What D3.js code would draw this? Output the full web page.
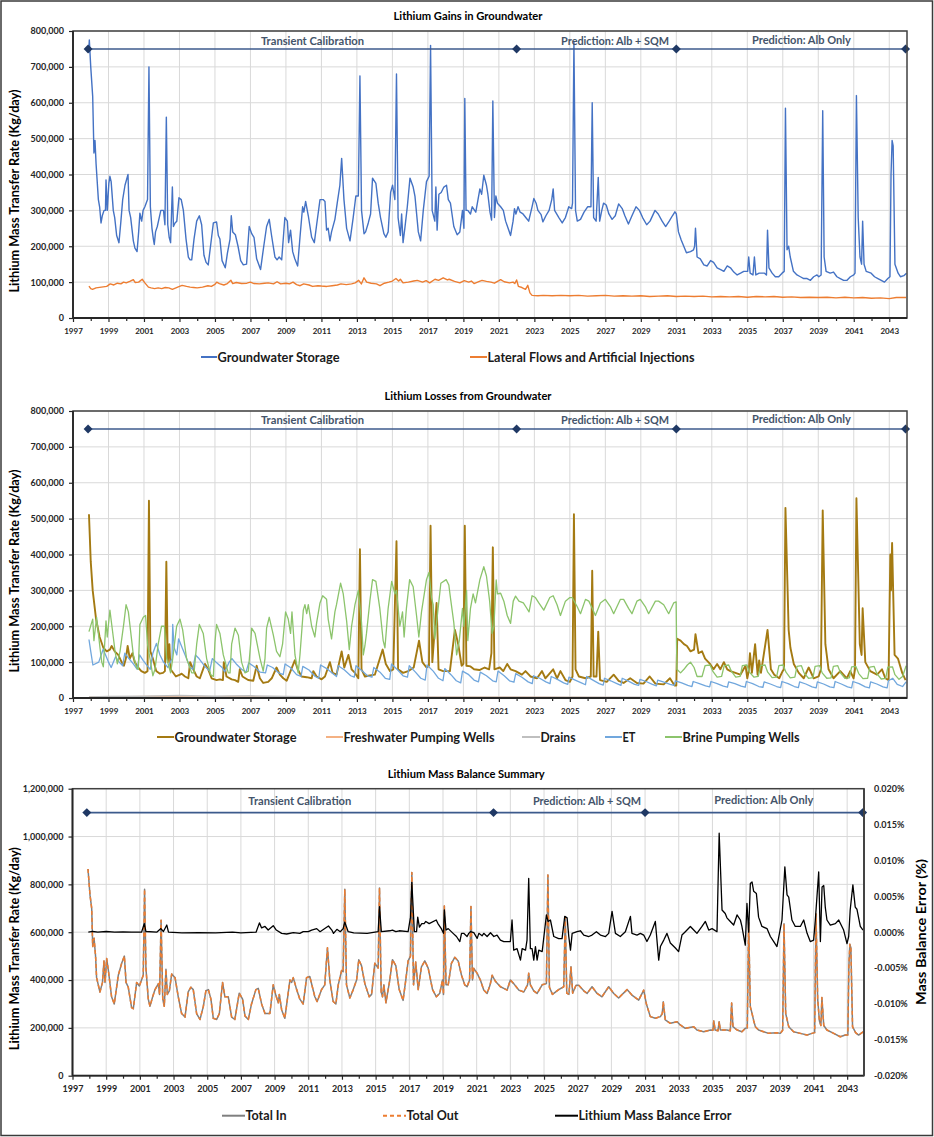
<!DOCTYPE html>
<html><head><meta charset="utf-8">
<script src="https://cdn.jsdelivr.net/npm/d3@7"></script>
<style>body{margin:0;background:#fff}svg text{font-family:Lato,'Open Sans',sans-serif;font-weight:700}</style>
</head><body><svg id="c" width="934" height="1137"></svg>
<script>
// ---------- DATA (values in thousand kg/day; error in 0.001 %) ----------
const xTickYears=[1997,1999,2001,2003,2005,2007,2009,2011,2013,2015,2017,2019,2021,2023,2025,2027,2029,2031,2033,2035,2037,2039,2041,2043];
const xMinorYears=[1998,2000,2002,2004,2006,2008,2010,2012,2014,2016,2018,2020,2022,2024,2026,2028,2030,2032,2034,2036,2038,2040,2042];
const phaseBounds=[1997.85,2022.0,2031.0,2043.92];
const phaseNames=["Transient Calibration","Prediction: Alb + SQM","Prediction: Alb Only"];
const phaseLabelAt=[2010.5,2027.55,2038.05];

const gainStorage=[[1997.88,740],[1997.92,775],[1998.00,700],[1998.11,617],[1998.18,460],[1998.24,495],[1998.30,430],[1998.43,330],[1998.50,310],[1998.58,265],[1998.65,285],[1998.75,300],[1998.83,300],[1998.86,385],[1998.93,300],[1999.02,375],[1999.08,395],[1999.15,380],[1999.27,300],[1999.35,280],[1999.46,230],[1999.59,210],[1999.70,270],[1999.80,330],[1999.93,370],[2000.10,400],[2000.16,300],[2000.25,280],[2000.40,215],[2000.49,195],[2000.61,185],[2000.70,240],[2000.77,292],[2000.87,270],[2000.95,300],[2001.05,310],[2001.20,330],[2001.28,700],[2001.36,310],[2001.45,250],[2001.53,220],[2001.58,205],[2001.65,240],[2001.75,255],[2001.86,280],[2001.95,300],[2002.10,300],[2002.18,260],[2002.26,560],[2002.34,260],[2002.42,225],[2002.50,210],[2002.60,365],[2002.66,255],[2002.75,265],[2002.85,270],[2002.97,335],[2003.10,330],[2003.22,300],[2003.37,220],[2003.50,170],[2003.60,162],[2003.69,162],[2003.82,220],[2003.97,270],[2004.12,285],[2004.25,260],[2004.38,175],[2004.50,155],[2004.62,148],[2004.75,200],[2004.91,265],[2005.09,268],[2005.19,230],[2005.28,220],[2005.40,160],[2005.58,140],[2005.70,180],[2005.85,220],[2005.92,285],[2006.00,240],[2006.15,232],[2006.30,200],[2006.45,160],[2006.60,148],[2006.78,150],[2006.93,255],[2007.07,235],[2007.20,225],[2007.35,165],[2007.57,135],[2007.75,200],[2007.91,255],[2008.06,275],[2008.19,230],[2008.38,170],[2008.50,162],[2008.62,170],[2008.76,162],[2008.94,280],[2009.08,270],[2009.15,210],[2009.26,245],[2009.38,185],[2009.50,165],[2009.66,145],[2009.80,230],[2009.94,310],[2010.01,295],[2010.11,325],[2010.26,285],[2010.45,225],[2010.60,210],[2010.73,260],[2010.92,330],[2011.10,330],[2011.20,325],[2011.29,245],[2011.38,250],[2011.48,215],[2011.57,240],[2011.76,275],[2011.89,320],[2012.04,370],[2012.14,445],[2012.27,330],[2012.42,250],[2012.61,215],[2012.79,280],[2012.94,340],[2013.08,340],[2013.17,675],[2013.26,300],[2013.40,235],[2013.49,240],[2013.64,265],[2013.77,290],[2013.88,390],[2014.07,375],[2014.20,320],[2014.33,280],[2014.52,235],[2014.63,225],[2014.76,240],[2014.90,350],[2015.01,370],[2015.14,330],[2015.23,680],[2015.32,280],[2015.45,230],[2015.52,290],[2015.60,210],[2015.70,250],[2015.84,310],[2015.99,390],[2016.17,365],[2016.27,340],[2016.46,240],[2016.59,215],[2016.74,300],[2016.92,380],[2017.07,395],[2017.15,760],[2017.24,300],[2017.39,270],[2017.45,365],[2017.52,245],[2017.62,345],[2017.75,350],[2017.90,365],[2018.05,370],[2018.15,330],[2018.27,320],[2018.46,255],[2018.65,232],[2018.80,240],[2018.95,300],[2019.03,250],[2019.08,612],[2019.15,300],[2019.25,300],[2019.40,290],[2019.50,310],[2019.70,295],[2019.93,360],[2020.03,345],[2020.15,398],[2020.30,370],[2020.38,345],[2020.50,295],[2020.59,273],[2020.66,605],[2020.75,280],[2020.83,340],[2020.92,320],[2021.10,310],[2021.25,300],[2021.38,270],[2021.52,250],[2021.66,230],[2021.80,270],[2021.88,305],[2021.96,290],[2022.08,310],[2022.20,295],[2022.36,290],[2022.55,278],[2022.68,270],[2022.87,310],[2022.97,333],[2023.10,320],[2023.20,300],[2023.38,288],[2023.48,268],[2023.65,285],[2023.83,300],[2023.98,330],[2024.06,360],[2024.14,300],[2024.38,280],[2024.57,265],[2024.75,280],[2024.94,310],[2025.10,305],[2025.15,320],[2025.23,770],[2025.32,300],[2025.42,270],[2025.60,275],[2025.80,295],[2026.00,310],[2026.19,310],[2026.26,600],[2026.34,280],[2026.48,270],[2026.60,392],[2026.68,270],[2026.80,300],[2026.90,320],[2027.05,315],[2027.20,290],[2027.38,275],[2027.56,285],[2027.75,318],[2027.95,305],[2028.10,285],[2028.30,262],[2028.50,285],[2028.73,310],[2028.92,300],[2029.10,280],[2029.33,260],[2029.52,270],[2029.80,300],[2029.98,290],[2030.20,270],[2030.40,255],[2030.60,270],[2030.78,285],[2030.92,296],[2031.00,290],[2031.12,240],[2031.27,218],[2031.42,200],[2031.57,182],[2031.80,185],[2031.97,190],[2032.03,200],[2032.08,250],[2032.17,170],[2032.35,165],[2032.55,148],[2032.74,145],[2032.93,160],[2033.10,155],[2033.30,140],[2033.50,135],[2033.68,130],[2033.87,145],[2034.05,140],[2034.24,128],[2034.43,120],[2034.62,125],[2034.80,130],[2035.02,130],[2035.08,170],[2035.16,125],[2035.32,120],[2035.40,170],[2035.48,120],[2035.67,125],[2035.97,125],[2036.08,120],[2036.14,245],[2036.22,140],[2036.40,125],[2036.58,115],[2036.77,115],[2036.96,125],[2037.08,130],[2037.15,585],[2037.24,190],[2037.33,200],[2037.42,170],[2037.60,130],[2037.80,120],[2037.99,115],[2038.18,110],[2038.37,110],[2038.56,105],[2038.74,115],[2038.93,120],[2039.03,115],[2039.16,120],[2039.25,578],[2039.33,170],[2039.44,130],[2039.67,125],[2039.86,128],[2040.05,115],[2040.24,110],[2040.43,105],[2040.62,105],[2040.81,115],[2041.00,120],[2041.07,125],[2041.15,620],[2041.25,280],[2041.35,170],[2041.44,150],[2041.50,270],[2041.58,150],[2041.70,130],[2041.98,125],[2042.17,115],[2042.36,110],[2042.55,105],[2042.73,100],[2042.92,110],[2043.04,115],[2043.10,400],[2043.16,495],[2043.22,480],[2043.32,150],[2043.50,125],[2043.63,115],[2043.82,118],[2043.97,125]];

const gainLateral=[[1997.90,89],[1998.00,82],[1998.10,80],[1998.30,84],[1998.60,86],[1998.90,88],[1999.10,95],[1999.30,92],[1999.50,97],[1999.70,95],[1999.85,100],[2000.00,98],[2000.20,102],[2000.40,107],[2000.50,99],[2000.70,100],[2000.90,108],[2001.05,98],[2001.25,86],[2001.40,84],[2001.60,82],[2001.80,84],[2002.00,82],[2002.20,85],[2002.40,84],[2002.60,80],[2002.80,84],[2003.00,88],[2003.15,91],[2003.40,88],[2003.60,86],[2003.80,85],[2004.00,84],[2004.30,86],[2004.60,90],[2004.80,88],[2005.00,94],[2005.10,100],[2005.25,96],[2005.50,92],[2005.70,96],[2005.90,105],[2006.00,96],[2006.20,99],[2006.50,96],[2006.80,97],[2007.00,100],[2007.20,96],[2007.50,95],[2007.80,97],[2008.00,98],[2008.30,95],[2008.50,101],[2008.70,95],[2009.00,97],[2009.20,95],[2009.40,100],[2009.60,93],[2009.80,90],[2010.00,95],[2010.30,92],[2010.50,88],[2010.80,90],[2011.00,89],[2011.30,88],[2011.60,90],[2011.90,92],[2012.10,95],[2012.40,93],[2012.70,95],[2012.90,98],[2013.10,105],[2013.25,95],[2013.40,112],[2013.55,100],[2013.80,97],[2014.10,95],[2014.30,90],[2014.55,97],[2014.80,100],[2015.00,103],[2015.20,110],[2015.35,103],[2015.45,108],[2015.60,98],[2015.90,100],[2016.20,103],[2016.40,105],[2016.70,100],[2016.90,104],[2017.10,98],[2017.40,108],[2017.60,105],[2017.86,112],[2018.10,106],[2018.20,108],[2018.50,102],[2018.80,98],[2019.05,104],[2019.30,100],[2019.45,103],[2019.60,96],[2019.90,102],[2020.05,105],[2020.30,102],[2020.55,100],[2020.75,97],[2021.00,104],[2021.10,107],[2021.30,101],[2021.60,98],[2021.80,100],[2021.90,96],[2022.00,106],[2022.10,88],[2022.30,85],[2022.50,80],[2022.63,91],[2022.75,70],[2022.87,63],[2023.20,62],[2023.50,63],[2024.00,62],[2024.50,63],[2025.00,62],[2025.50,63],[2026.00,61],[2026.50,62],[2027.00,63],[2027.50,61],[2028.00,62],[2028.50,61],[2029.00,62],[2029.50,60],[2030.00,61],[2030.50,62],[2031.00,60],[2031.50,61],[2032.00,60],[2032.50,61],[2033.00,59],[2033.50,60],[2034.00,59],[2034.50,60],[2035.00,58],[2035.50,60],[2036.00,59],[2036.50,60],[2037.00,58],[2037.50,59],[2038.00,57],[2038.50,58],[2039.00,57],[2039.50,58],[2040.00,56],[2040.50,58],[2041.00,56],[2041.50,57],[2042.00,55],[2042.50,56],[2043.00,54],[2043.40,57],[2043.95,57]];

const lossStorage=[[1997.90,512],[1998.00,380],[1998.11,300],[1998.30,220],[1998.50,170],[1998.71,140],[1998.90,130],[1999.08,135],[1999.18,145],[1999.35,130],[1999.55,120],[1999.74,100],[1999.87,90],[1999.98,110],[2000.08,145],[2000.20,110],[2000.35,125],[2000.48,100],[2000.67,85],[2000.85,75],[2001.05,70],[2001.20,75],[2001.28,550],[2001.36,130],[2001.50,110],[2001.69,75],[2001.88,68],[2002.07,70],[2002.18,75],[2002.26,380],[2002.34,100],[2002.43,150],[2002.50,80],[2002.80,60],[2003.03,65],[2003.12,68],[2003.31,60],[2003.50,55],[2003.60,100],[2003.78,80],[2003.97,60],[2004.15,55],[2004.44,95],[2004.62,80],[2004.81,55],[2005.09,50],[2005.28,52],[2005.45,50],[2005.50,100],[2005.65,60],[2005.94,52],[2006.13,50],[2006.31,45],[2006.40,80],[2006.55,60],[2006.87,50],[2007.16,48],[2007.35,90],[2007.53,55],[2007.72,42],[2008.00,45],[2008.20,55],[2008.47,85],[2008.66,65],[2008.85,55],[2009.04,48],[2009.50,105],[2009.66,80],[2009.88,60],[2010.17,58],[2010.45,55],[2010.54,75],[2010.73,60],[2011.01,52],[2011.20,60],[2011.48,100],[2011.63,70],[2011.85,65],[2012.14,130],[2012.29,85],[2012.52,120],[2012.70,80],[2012.89,70],[2013.08,55],[2013.17,415],[2013.26,80],[2013.45,60],[2013.64,62],[2014.01,65],[2014.45,135],[2014.63,95],[2014.86,75],[2015.05,80],[2015.23,437],[2015.32,80],[2015.60,70],[2015.89,75],[2016.20,85],[2016.50,160],[2016.69,100],[2016.92,85],[2017.06,90],[2017.15,480],[2017.25,100],[2017.49,265],[2017.60,80],[2017.86,75],[2018.24,75],[2018.52,190],[2018.71,150],[2018.90,90],[2019.00,95],[2019.08,480],[2019.17,90],[2019.40,88],[2019.60,80],[2019.90,78],[2020.20,85],[2020.45,80],[2020.58,125],[2020.66,420],[2020.75,80],[2021.05,85],[2021.25,75],[2021.47,95],[2021.66,80],[2021.94,75],[2022.30,65],[2022.50,75],[2022.78,60],[2023.15,55],[2023.43,75],[2023.62,55],[2024.06,80],[2024.28,55],[2024.47,75],[2024.75,50],[2025.00,45],[2025.15,60],[2025.23,512],[2025.32,80],[2025.51,60],[2025.88,55],[2026.18,60],[2026.26,355],[2026.34,60],[2026.50,60],[2026.60,185],[2026.70,50],[2027.08,45],[2027.47,65],[2027.75,48],[2028.03,42],[2028.40,55],[2028.78,42],[2029.15,40],[2029.50,60],[2029.82,40],[2030.29,38],[2030.64,55],[2030.90,35],[2031.00,35],[2031.05,165],[2031.24,160],[2031.43,150],[2031.60,145],[2031.80,130],[2032.00,135],[2032.08,178],[2032.25,125],[2032.45,130],[2032.62,110],[2032.90,95],[2033.10,80],[2033.30,95],[2033.48,80],[2033.68,100],[2033.87,80],[2034.05,75],[2034.33,70],[2034.61,65],[2034.90,90],[2035.00,55],[2035.08,75],[2035.15,125],[2035.26,70],[2035.44,150],[2035.58,65],[2035.67,105],[2035.77,70],[2036.14,190],[2036.33,80],[2036.52,65],[2036.80,55],[2036.99,75],[2037.07,80],[2037.15,530],[2037.33,190],[2037.43,140],[2037.62,95],[2037.90,70],[2038.18,55],[2038.46,85],[2038.74,55],[2039.02,60],[2039.15,80],[2039.25,523],[2039.40,150],[2039.58,80],[2039.86,55],[2040.24,75],[2040.61,55],[2040.80,75],[2040.99,55],[2041.07,80],[2041.15,557],[2041.34,150],[2041.44,120],[2041.50,250],[2041.65,100],[2041.93,75],[2042.31,65],[2042.59,80],[2042.78,55],[2042.96,50],[2043.06,400],[2043.10,300],[2043.16,432],[2043.30,120],[2043.49,110],[2043.73,70],[2043.92,50]];

const lossFresh=[[1997.90,2],[1999.00,3],[2001.50,4],[2004.00,3],[2006.50,4],[2009.00,3],[2012.00,2],[2016.00,2],[2022.00,2],[2031.00,1],[2043.95,1]];
const lossDrains=[[1997.90,3],[1999.00,4],[2001.00,5],[2003.00,7],[2005.00,5],[2007.00,6],[2009.00,4],[2011.00,3],[2014.00,3],[2018.00,2],[2025.00,2],[2031.00,2],[2043.95,2]];

const lossET=[[1997.90,163],[1998.00,130],[1998.12,92],[1998.45,100],[1998.70,136],[1998.90,112],[1999.00,100],[1999.15,85],[1999.40,115],[1999.60,100],[1999.80,90],[1999.92,125],[2000.15,110],[2000.40,95],[2000.62,80],[2000.75,120],[2000.95,105],[2001.10,95],[2001.35,80],[2001.50,125],[2001.70,152],[2001.90,120],[2002.10,100],[2002.35,85],[2002.58,110],[2002.62,205],[2002.70,140],[2002.85,120],[2002.95,165],[2003.15,140],[2003.40,110],[2003.60,85],[2003.75,80],[2003.90,120],[2004.10,110],[2004.40,90],[2004.70,75],[2004.85,110],[2005.10,98],[2005.40,85],[2005.55,73],[2005.80,100],[2005.95,110],[2006.20,95],[2006.50,80],[2006.75,72],[2006.90,98],[2007.20,88],[2007.55,72],[2007.85,70],[2007.95,92],[2008.25,85],[2008.60,70],[2008.85,65],[2008.95,95],[2009.25,85],[2009.60,65],[2009.85,60],[2009.95,88],[2010.30,78],[2010.65,60],[2010.85,55],[2010.95,92],[2011.30,82],[2011.60,70],[2011.85,60],[2011.95,90],[2012.30,78],[2012.65,62],[2012.85,58],[2012.95,90],[2013.30,75],[2013.60,62],[2013.85,58],[2013.95,85],[2014.30,72],[2014.60,55],[2014.85,52],[2014.95,95],[2015.30,78],[2015.60,62],[2015.85,58],[2015.95,90],[2016.30,72],[2016.60,55],[2016.85,50],[2016.95,92],[2017.30,75],[2017.60,55],[2017.85,48],[2017.95,82],[2018.30,65],[2018.60,48],[2018.85,42],[2018.95,75],[2019.30,65],[2019.60,50],[2019.85,45],[2019.95,72],[2020.30,62],[2020.65,48],[2020.85,45],[2020.95,75],[2021.30,62],[2021.60,48],[2021.85,44],[2021.95,68],[2022.30,58],[2022.65,45],[2022.88,40],[2022.95,62],[2023.30,55],[2023.65,45],[2023.88,40],[2023.95,60],[2024.30,52],[2024.65,42],[2024.88,38],[2024.95,58],[2025.30,50],[2025.65,42],[2025.88,37],[2025.95,60],[2026.30,50],[2026.65,40],[2026.88,36],[2026.95,55],[2027.30,48],[2027.65,40],[2027.88,35],[2027.95,55],[2028.30,47],[2028.65,38],[2028.88,35],[2028.95,52],[2029.30,46],[2029.65,38],[2029.88,34],[2029.95,50],[2030.30,44],[2030.65,38],[2030.88,35],[2030.95,48],[2031.30,42],[2031.65,35],[2031.88,32],[2031.95,46],[2032.30,40],[2032.65,34],[2032.88,31],[2032.95,46],[2033.30,40],[2033.65,33],[2033.88,30],[2033.95,45],[2034.30,40],[2034.65,33],[2034.88,30],[2034.95,46],[2035.30,40],[2035.65,32],[2035.88,30],[2035.95,45],[2036.30,39],[2036.65,32],[2036.88,29],[2036.95,46],[2037.30,40],[2037.65,32],[2037.88,29],[2037.95,45],[2038.30,39],[2038.65,31],[2038.88,28],[2038.95,45],[2039.30,39],[2039.65,31],[2039.88,29],[2039.95,46],[2040.30,39],[2040.65,31],[2040.88,28],[2040.95,46],[2041.30,40],[2041.65,31],[2041.88,28],[2041.95,45],[2042.30,39],[2042.65,31],[2042.88,28],[2042.95,48],[2043.20,55],[2043.45,38],[2043.75,32],[2043.95,45]];

const lossBrine=[[1997.90,185],[1998.11,220],[1998.18,160],[1998.33,225],[1998.52,140],[1998.62,100],[1998.71,87],[1998.86,215],[1998.93,170],[1999.08,245],[1999.27,170],[1999.37,130],[1999.50,95],[1999.65,130],[1999.87,210],[1999.99,260],[2000.12,240],[2000.25,185],[2000.40,120],[2000.58,85],[2000.68,80],[2000.77,205],[2000.96,225],[2001.09,230],[2001.20,150],[2001.50,62],[2001.62,80],[2001.80,150],[2001.99,200],[2002.15,200],[2002.28,110],[2002.50,70],[2002.62,110],[2002.84,200],[2003.03,220],[2003.18,190],[2003.40,110],[2003.69,70],[2003.82,70],[2003.97,150],[2004.12,205],[2004.34,180],[2004.53,110],[2004.76,65],[2004.91,60],[2005.00,155],[2005.09,205],[2005.28,180],[2005.47,120],[2005.75,70],[2005.85,70],[2005.94,150],[2006.13,195],[2006.32,175],[2006.50,100],[2006.69,70],[2006.88,75],[2007.01,150],[2007.07,195],[2007.26,180],[2007.54,110],[2007.72,75],[2007.82,110],[2007.91,195],[2008.06,225],[2008.29,175],[2008.47,130],[2008.66,115],[2008.81,150],[2008.98,240],[2009.13,220],[2009.26,180],[2009.34,240],[2009.51,120],[2009.69,70],[2009.79,120],[2009.98,245],[2010.07,260],[2010.17,235],[2010.26,260],[2010.45,200],[2010.63,170],[2010.73,210],[2010.92,265],[2011.07,285],[2011.29,275],[2011.38,220],[2011.57,165],[2011.76,240],[2011.85,260],[2012.08,320],[2012.23,290],[2012.42,215],[2012.57,135],[2012.70,200],[2012.89,260],[2013.08,300],[2013.26,210],[2013.36,120],[2013.45,145],[2013.54,180],[2013.73,270],[2013.88,330],[2014.07,325],[2014.29,250],[2014.48,160],[2014.58,140],[2014.76,250],[2014.96,325],[2015.14,290],[2015.23,300],[2015.42,200],[2015.57,240],[2015.66,170],[2015.79,250],[2015.97,330],[2016.17,310],[2016.36,230],[2016.49,170],[2016.64,240],[2016.92,330],[2017.06,350],[2017.20,280],[2017.30,260],[2017.39,165],[2017.73,320],[2018.03,330],[2018.18,315],[2018.27,280],[2018.46,210],[2018.62,120],[2018.77,160],[2018.95,250],[2019.03,200],[2019.18,300],[2019.25,160],[2019.40,250],[2019.55,290],[2019.68,265],[2019.93,330],[2020.15,366],[2020.30,340],[2020.48,270],[2020.62,180],[2020.72,200],[2020.85,329],[2020.92,290],[2021.10,292],[2021.28,270],[2021.47,230],[2021.66,208],[2021.81,270],[2021.94,284],[2022.13,270],[2022.38,265],[2022.51,255],[2022.70,240],[2022.87,285],[2023.06,280],[2023.25,265],[2023.53,245],[2023.87,280],[2024.06,285],[2024.28,260],[2024.47,230],[2024.75,270],[2025.00,280],[2025.13,280],[2025.41,255],[2025.60,235],[2025.88,275],[2026.07,270],[2026.26,250],[2026.44,230],[2026.72,265],[2027.00,275],[2027.28,255],[2027.47,235],[2027.85,275],[2028.03,275],[2028.31,250],[2028.50,235],[2028.78,270],[2028.97,275],[2029.25,255],[2029.44,235],[2029.82,270],[2030.00,270],[2030.29,260],[2030.57,235],[2030.85,265],[2030.99,268],[2031.03,80],[2031.24,70],[2031.43,80],[2031.62,92],[2031.80,100],[2032.00,85],[2032.17,60],[2032.45,60],[2032.62,90],[2032.90,92],[2033.05,75],[2033.30,58],[2033.55,60],[2033.70,90],[2033.95,92],[2034.10,75],[2034.35,58],[2034.60,60],[2034.72,90],[2034.98,92],[2035.12,72],[2035.38,58],[2035.62,60],[2035.75,90],[2036.00,92],[2036.15,72],[2036.40,57],[2036.65,58],[2036.78,90],[2037.02,92],[2037.18,72],[2037.42,56],[2037.68,58],[2037.80,88],[2038.05,90],[2038.20,70],[2038.45,55],[2038.70,57],[2038.82,88],[2039.08,90],[2039.22,70],[2039.48,55],[2039.72,56],[2039.85,88],[2040.10,90],[2040.25,70],[2040.50,55],[2040.75,56],[2040.88,87],[2041.12,88],[2041.28,68],[2041.52,54],[2041.78,55],[2041.90,86],[2042.15,88],[2042.30,68],[2042.55,53],[2042.80,55],[2042.92,86],[2043.18,87],[2043.32,65],[2043.55,52],[2043.75,60],[2043.95,90]];

const totalIn=[[1997.92,864],[1998.04,755],[1998.14,700],[1998.20,540],[1998.28,575],[1998.37,500],[1998.43,410],[1998.63,350],[1998.78,390],[1998.87,480],[1998.93,390],[1999.03,490],[1999.13,440],[1999.32,330],[1999.48,300],[1999.72,420],[1999.92,470],[2000.08,500],[2000.18,390],[2000.31,370],[2000.51,285],[2000.61,280],[2000.81,390],[2000.97,375],[2001.10,400],[2001.20,420],[2001.28,780],[2001.36,450],[2001.50,320],[2001.60,290],[2001.76,330],[2001.90,360],[2002.10,385],[2002.17,340],[2002.26,650],[2002.36,320],[2002.45,290],[2002.55,445],[2002.63,340],[2002.75,355],[2002.89,425],[2003.09,410],[2003.28,330],[2003.48,260],[2003.68,245],[2003.87,350],[2004.03,370],[2004.17,360],[2004.37,260],[2004.57,235],[2004.77,290],[2004.92,355],[2005.07,360],[2005.22,320],[2005.36,240],[2005.56,235],[2005.72,260],[2005.91,390],[2006.05,330],[2006.25,330],[2006.45,245],[2006.64,235],[2006.90,345],[2007.10,320],[2007.24,250],[2007.44,235],[2007.63,300],[2007.89,360],[2008.03,365],[2008.23,300],[2008.43,260],[2008.62,260],[2008.72,260],[2008.92,380],[2009.08,335],[2009.22,305],[2009.28,340],[2009.42,275],[2009.61,240],[2009.91,400],[2010.01,390],[2010.11,410],[2010.31,360],[2010.50,320],[2010.70,300],[2010.90,410],[2011.09,415],[2011.39,330],[2011.53,310],[2011.79,360],[2011.98,380],[2012.06,460],[2012.14,535],[2012.28,400],[2012.48,310],[2012.64,300],[2012.78,380],[2012.98,440],[2013.07,435],[2013.17,780],[2013.27,380],[2013.47,325],[2013.67,360],[2013.87,400],[2014.00,485],[2014.16,460],[2014.36,385],[2014.62,330],[2014.76,340],[2014.95,470],[2015.05,460],[2015.15,450],[2015.23,785],[2015.33,350],[2015.41,330],[2015.49,380],[2015.61,305],[2015.84,400],[2016.00,485],[2016.20,460],[2016.40,360],[2016.63,315],[2016.79,400],[2016.93,480],[2017.07,500],[2017.15,850],[2017.25,380],[2017.38,475],[2017.53,360],[2017.72,455],[2017.92,480],[2018.12,450],[2018.38,360],[2018.61,330],[2018.81,345],[2018.97,400],[2019.03,340],[2019.08,710],[2019.18,380],[2019.31,380],[2019.50,470],[2019.70,495],[2019.90,480],[2020.10,420],[2020.29,380],[2020.43,372],[2020.58,400],[2020.66,707],[2020.75,400],[2020.83,449],[2021.03,428],[2021.22,400],[2021.42,358],[2021.62,344],[2021.80,380],[2021.92,420],[2022.11,395],[2022.41,372],[2022.61,365],[2022.81,358],[2023.00,400],[2023.20,385],[2023.50,358],[2023.80,350],[2024.02,380],[2024.09,428],[2024.19,380],[2024.39,355],[2024.59,344],[2024.89,380],[2025.14,385],[2025.23,839],[2025.32,370],[2025.50,340],[2025.87,360],[2026.17,372],[2026.26,665],[2026.35,345],[2026.48,340],[2026.60,456],[2026.70,345],[2026.90,378],[2027.06,378],[2027.36,355],[2027.56,344],[2027.85,372],[2028.15,344],[2028.44,330],[2028.84,372],[2029.14,344],[2029.43,325],[2029.93,360],[2030.22,337],[2030.62,316],[2030.92,358],[2031.07,302],[2031.31,247],[2031.61,240],[2031.91,247],[2032.02,260],[2032.08,309],[2032.20,233],[2032.50,219],[2032.90,226],[2033.09,212],[2033.39,198],[2033.89,205],[2034.08,191],[2034.48,184],[2034.88,191],[2035.03,190],[2035.08,229],[2035.16,191],[2035.33,188],[2035.40,226],[2035.47,191],[2035.86,191],[2036.06,188],[2036.14,304],[2036.22,205],[2036.46,191],[2036.75,184],[2036.95,198],[2037.07,200],[2037.15,640],[2037.25,288],[2037.35,261],[2037.45,230],[2037.55,205],[2037.74,191],[2038.04,184],[2038.34,177],[2038.83,180],[2039.03,177],[2039.17,190],[2039.25,635],[2039.35,260],[2039.53,205],[2039.82,184],[2040.22,177],[2040.62,170],[2040.91,177],[2041.07,180],[2041.15,676],[2041.25,320],[2041.35,230],[2041.44,210],[2041.50,327],[2041.61,210],[2041.80,191],[2042.20,177],[2042.59,163],[2042.89,170],[2043.04,170],[2043.10,455],[2043.16,550],[2043.22,535],[2043.32,205],[2043.50,180],[2043.68,170],[2043.97,184]];
const totalOut=totalIn; // drawn identically in the picture (in = out)

const balanceError=[[1997.94,0.0],[1998.20,0.1],[1998.50,0.0],[1999.00,0.1],[1999.50,0.0],[2000.00,0.05],[2000.50,0.0],[2001.10,0.0],[2001.26,1.2],[2001.36,0.1],[2002.00,0.0],[2002.25,0.5],[2002.40,0.1],[2002.60,1.0],[2002.70,0.0],[2003.50,-0.1],[2004.50,-0.05],[2005.50,-0.1],[2006.50,0.0],[2007.00,-0.1],[2007.90,0.0],[2008.10,1.3],[2008.23,0.6],[2008.43,0.8],[2008.62,0.3],[2008.92,0.9],[2009.10,0.3],[2009.42,-0.16],[2009.72,-0.25],[2010.11,-0.07],[2010.50,-0.16],[2010.70,0.07],[2011.00,0.07],[2011.20,0.3],[2011.50,0.5],[2011.70,0.07],[2012.20,0.86],[2012.40,0.3],[2012.50,-0.16],[2012.70,0.4],[2012.90,0.07],[2013.07,0.5],[2013.17,1.4],[2013.37,0.07],[2013.70,-0.1],[2014.50,-0.16],[2015.15,0.07],[2015.23,3.55],[2015.34,0.07],[2015.84,0.2],[2016.00,0.3],[2016.20,0.07],[2016.40,0.2],[2016.93,0.07],[2017.07,2.1],[2017.15,6.95],[2017.30,0.07],[2017.43,0.07],[2017.50,2.1],[2017.60,0.7],[2017.74,1.2],[2017.88,1.2],[2017.98,1.5],[2018.18,1.2],[2018.60,1.7],[2018.70,1.2],[2018.90,0.5],[2019.03,-0.16],[2019.08,3.1],[2019.18,0.3],[2019.31,0.5],[2019.60,-0.16],[2019.80,-0.6],[2020.00,-1.3],[2020.10,-0.16],[2020.23,-0.16],[2020.43,-0.6],[2020.53,-0.16],[2020.63,0.07],[2020.83,-0.07],[2021.03,-0.86],[2021.13,-0.16],[2021.32,-0.5],[2021.42,-0.16],[2021.62,-0.6],[2021.82,-0.07],[2022.02,-0.6],[2022.21,-0.4],[2022.41,-1.1],[2022.61,-1.3],[2023.00,-1.3],[2023.10,1.7],[2023.20,-2.5],[2023.40,-2.3],[2023.60,-3.9],[2023.70,-2.3],[2023.90,-2.5],[2023.99,-1.1],[2024.09,7.5],[2024.19,-2.3],[2024.29,-2.3],[2024.39,-3.9],[2024.49,-2.0],[2024.59,-3.9],[2024.69,-2.5],[2024.89,-2.7],[2025.14,2.4],[2025.24,1.5],[2025.38,1.7],[2025.58,-0.6],[2025.87,-0.9],[2026.07,-0.9],[2026.23,2.2],[2026.37,2.0],[2026.47,-0.6],[2026.57,-2.5],[2026.67,-0.16],[2026.96,0.07],[2027.16,0.2],[2027.36,-0.4],[2027.66,-0.6],[2027.85,-0.4],[2028.11,0.07],[2028.35,-0.4],[2028.65,-0.6],[2028.84,-0.16],[2029.04,2.9],[2029.24,-0.16],[2029.53,-0.6],[2029.83,0.07],[2030.13,2.2],[2030.22,-0.16],[2030.52,-0.4],[2030.72,-0.16],[2030.92,-0.4],[2031.11,-1.3],[2031.31,-0.4],[2031.61,1.5],[2031.81,-3.9],[2031.91,-2.0],[2032.11,-1.1],[2032.30,-0.16],[2032.50,-1.5],[2032.80,-2.2],[2032.99,-2.7],[2033.19,-0.4],[2033.39,0.07],[2033.69,0.8],[2033.89,0.3],[2034.08,-0.16],[2034.38,0.8],[2034.58,1.5],[2034.78,0.3],[2034.98,0.5],[2035.27,0.07],[2035.40,13.8],[2035.57,3.1],[2035.76,2.6],[2035.86,2.0],[2036.06,1.5],[2036.26,1.0],[2036.46,2.4],[2036.66,1.7],[2036.75,0.8],[2036.95,-1.8],[2037.05,4.0],[2037.15,0.0],[2037.25,6.8],[2037.35,7.0],[2037.45,5.7],[2037.61,5.4],[2037.74,2.1],[2037.94,0.8],[2038.24,0.5],[2038.44,-0.6],[2038.64,-1.3],[2038.83,-2.0],[2039.13,1.7],[2039.30,9.1],[2039.43,5.2],[2039.53,4.9],[2039.72,1.7],[2039.92,0.8],[2040.22,0.8],[2040.42,1.7],[2040.62,-0.16],[2040.81,-1.3],[2041.01,-1.1],[2041.11,1.7],[2041.31,8.4],[2041.41,-1.3],[2041.51,6.3],[2041.61,6.5],[2041.70,3.5],[2041.80,1.7],[2042.00,1.0],[2042.30,1.2],[2042.50,1.7],[2042.60,1.2],[2042.79,0.3],[2042.99,-1.6],[2043.09,-0.6],[2043.18,3.1],[2043.34,6.6],[2043.48,3.5],[2043.58,3.2],[2043.78,0.8],[2043.94,0.3]];

// ---------- DRAWING ----------
const xDomain=[1997,2044];
const svg=d3.select("#c");
svg.append("rect").attr("x",1).attr("y",1).attr("width",931.5).attr("height",1134.5).attr("fill","#fff").attr("stroke","#3a3a3a").attr("stroke-width",1.5);

function txt(g,x,y,s,size,len,anchor,color){
  const t=g.append("text").attr("x",x).attr("y",y).attr("font-size",size).attr("text-anchor",anchor||"middle")
    .attr("dominant-baseline","central").attr("fill",color||"#000").text(s);
  if(len) t.attr("textLength",len).attr("lengthAdjust","spacingAndGlyphs");
  return t;
}

function panel(o){
  const g=svg.append("g");
  const x=d3.scaleLinear().domain(xDomain).range([o.l,o.r]);
  const y=d3.scaleLinear().domain([0,o.yMax]).range([o.b,o.t]);
  const yTicks=d3.range(0,o.yMax+1e-6,o.yStep);
  g.append("g").selectAll("line").data(yTicks.slice(1)).join("line")
    .attr("x1",o.l).attr("x2",o.r).attr("y1",d=>y(d)).attr("y2",d=>y(d)).attr("stroke","#d9d9d9").attr("stroke-width",1);
  g.append("g").selectAll("line").data(xTickYears.slice(1)).join("line")
    .attr("x1",d=>x(d)).attr("x2",d=>x(d)).attr("y1",o.t).attr("y2",o.b).attr("stroke","#d9d9d9").attr("stroke-width",1);
  const clipId="clip"+o.t;
  g.append("clipPath").attr("id",clipId).append("rect").attr("x",o.l).attr("y",o.t).attr("width",o.r-o.l).attr("height",o.b-o.t);
  const line=d3.line().x(d=>x(d[0])).y(d=>y(d[1]));
  const sg=g.append("g").attr("clip-path",`url(#${clipId})`);
  o.series.forEach(s=>{
    sg.append("path").datum(s.data).attr("d",line).attr("fill","none").attr("stroke",s.color)
      .attr("stroke-width",s.w).attr("stroke-dasharray",s.dash||null).attr("stroke-linejoin","round");
  });
  if(o.extra) o.extra(sg,x);
  // phase line
  const py=y(o.phaseVal);
  g.append("line").attr("x1",x(phaseBounds[0])).attr("x2",x(phaseBounds[3])).attr("y1",py).attr("y2",py)
    .attr("stroke","#3c5a8c").attr("stroke-width",1.6);
  g.selectAll(".dia").data(phaseBounds).join("path")
    .attr("d",d3.symbol(d3.symbolSquare,40)())
    .attr("transform",d=>`translate(${x(d)},${py}) rotate(45)`).attr("fill","#1f3864");
  phaseNames.forEach((n,i)=>{
    txt(g,x(phaseLabelAt[i]),py-o.phaseOff-(i==2?1:0),n,11,o.phaseLen[i],"middle","#44546a");
  });
  // box
  g.append("rect").attr("x",o.l).attr("y",o.t).attr("width",o.r-o.l).attr("height",o.b-o.t)
    .attr("fill","none").attr("stroke","#404040").attr("stroke-width",1.5);
  // y axis
  const ya=g.append("g").attr("transform",`translate(${o.l},0)`)
    .call(d3.axisLeft(y).tickValues(yTicks).tickSize(4).tickPadding(5).tickFormat(d=>d3.format(",")(d*1000)));
  ya.select(".domain").remove();
  ya.selectAll("line").attr("stroke","#262626").attr("stroke-width",1.2);
  ya.selectAll("text").attr("font-size",9).attr("fill","#262626").attr("font-family","Lato").attr("font-weight",700);
  // x axis
  const xa=g.append("g").attr("transform",`translate(0,${o.b})`)
    .call(d3.axisBottom(x).tickValues(xTickYears).tickSize(4).tickPadding(6).tickFormat(d3.format("d")));
  xa.select(".domain").remove();
  xa.selectAll("line").attr("stroke","#262626").attr("stroke-width",1.2);
  xa.selectAll("text").attr("font-size",o.xFont).attr("fill","#262626").attr("font-family","Lato").attr("font-weight",700);
  const xm=g.append("g").attr("transform",`translate(0,${o.b})`)
    .call(d3.axisBottom(x).tickValues(xMinorYears).tickSize(3).tickFormat(""));
  xm.select(".domain").remove();
  xm.selectAll("line").attr("stroke","#262626").attr("stroke-width",1.2);
  // axis lines
  g.append("line").attr("x1",o.l).attr("x2",o.l).attr("y1",o.t).attr("y2",o.b).attr("stroke","#262626").attr("stroke-width",1.8);
  g.append("line").attr("x1",o.l).attr("x2",o.r).attr("y1",o.b).attr("y2",o.b).attr("stroke","#262626").attr("stroke-width",1.8);
  // titles
  txt(g,(o.l+o.r)/2+o.titleDx,o.titleY,o.title,10.5,o.titleLen);
  txt(g,0,0,"Lithium Mass Transfer Rate (Kg/day)",12.5,203,"middle","#000")
    .attr("transform",`translate(14.7,${o.yTitleY}) rotate(-90)`).attr("x",null).attr("y",null);
  // legend
  o.legend.forEach(it=>{
    g.append("line").attr("x1",it.x1).attr("x2",it.x2).attr("y1",o.legY).attr("y2",o.legY)
      .attr("stroke",it.color).attr("stroke-width",2).attr("stroke-dasharray",it.dash||null);
    txt(g,it.x2+0.5,o.legY,it.name,12.5,it.len,"start","#1a1a1a");
  });
  return {g,x,y};
}

// top
panel({l:73,r:907,t:31,b:318,yMax:800,yStep:100,phaseVal:750,phaseOff:8,phaseLen:[103,108,99],
  xFont:8,title:"Lithium Gains in Groundwater",titleY:15.7,titleDx:-22,titleLen:149,yTitleY:191,legY:357,
  series:[{data:gainStorage,color:"#4472c4",w:1.4},{data:gainLateral,color:"#ed7d31",w:1.4}],
  legend:[{name:"Groundwater Storage",color:"#4472c4",x1:201,x2:217,len:122},
          {name:"Lateral Flows and Artificial Injections",color:"#ed7d31",x1:470,x2:487,len:207}]});

// middle
panel({l:73,r:907,t:411,b:698,yMax:800,yStep:100,phaseVal:750,phaseOff:9,phaseLen:[103,108,99],
  xFont:8,title:"Lithium Losses from Groundwater",titleY:395.7,titleDx:-22,titleLen:167,yTitleY:571,legY:737,
  series:[{data:lossStorage,color:"#a47a12",w:1.9},{data:lossFresh,color:"#f4b183",w:1.5},
          {data:lossDrains,color:"#bfbfbf",w:1.5},{data:lossET,color:"#71a7dd",w:1.3},{data:lossBrine,color:"#8cc46c",w:1.3}],
  legend:[{name:"Groundwater Storage",color:"#a47a12",x1:157,x2:174,len:122},
          {name:"Freshwater Pumping Wells",color:"#f4b183",x1:326,x2:343,len:151},
          {name:"Drains",color:"#bfbfbf",x1:522,x2:540,len:35},
          {name:"ET",color:"#71a7dd",x1:605,x2:622,len:13},
          {name:"Brine Pumping Wells",color:"#8cc46c",x1:665,x2:682,len:117}]});

// bottom
const bot=panel({l:72.5,r:864,t:788.7,b:1075.7,yMax:1200,yStep:200,phaseVal:1100,phaseOff:12.5,phaseLen:[103,108,99],
  xFont:9,title:"Lithium Mass Balance Summary",titleY:773.7,titleDx:-2,titleLen:157,yTitleY:948.7,legY:1115.7,
  series:[{data:totalIn,color:"#7f7f7f",w:1.5},{data:totalOut,color:"#ed7d31",w:1.5,dash:"4,3"}],
  extra:(sg,x)=>{
    const yR=d3.scaleLinear().domain([-20,20]).range([1075.7,788.7]);
    sg.append("path").datum(balanceError).attr("d",d3.line().x(d=>x(d[0])).y(d=>yR(d[1])))
      .attr("fill","none").attr("stroke","#000").attr("stroke-width",1.3).attr("stroke-linejoin","round");
  },
  legend:[{name:"Total In",color:"#7f7f7f",x1:222,x2:245,len:41},
          {name:"Total Out",color:"#ed7d31",x1:383,x2:406,len:52,dash:"4,3"},
          {name:"Lithium Mass Balance Error",color:"#000",x1:555,x2:578,len:153}]});
{
  const yR=d3.scaleLinear().domain([-20,20]).range([1075.7,788.7]);
  const ra=bot.g.append("g").attr("transform","translate(864,0)")
    .call(d3.axisRight(yR).tickValues(d3.range(-20,20.001,5)).tickSize(0).tickPadding(10).tickFormat(d=>(d/1000).toFixed(3)+"%"));
  ra.select(".domain").remove();
  ra.selectAll("text").attr("font-size",9).attr("fill","#262626").attr("font-family","Lato").attr("font-weight",700);
  txt(bot.g,0,0,"Mass Balance Error (%)",12.5,146,"middle","#000")
    .attr("transform","translate(921.3,932) rotate(-90)").attr("x",null).attr("y",null);
  bot.g.append("line").attr("x1",864).attr("x2",864).attr("y1",788.7).attr("y2",1075.7).attr("stroke","#404040").attr("stroke-width",1.8);
}
</script></body></html>
